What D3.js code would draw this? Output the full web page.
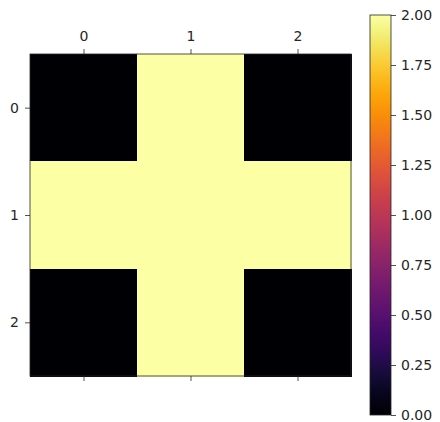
<!DOCTYPE html>
<html>
<head>
<meta charset="utf-8">
<script src="https://cdn.jsdelivr.net/npm/d3@7"></script>
<style>
  html, body { margin: 0; padding: 0; background: #fff; }
  svg text { font-family: "DejaVu Sans", sans-serif; font-size: 14px; fill: #262626; }
</style>
</head>
<body>
<svg id="chart" width="440" height="422"></svg>
<script>
// Matrix values (rows x columns)
const rows = [0, 1, 2];
const cols = [0, 1, 2];
const row0 = [0, 2, 0];
const row1 = [2, 2, 2];
const row2 = [0, 2, 0];
const matrix = [row0, row1, row2];
const colorTicks = [0, 0.25, 0.5, 0.75, 1.0, 1.25, 1.5, 1.75, 2.0];
const vmin = 0, vmax = 2;

const svg = d3.select("#chart");
const plot = { left: 30, top: 54, width: 321, height: 322 };
const cbar = { left: 370, top: 15, width: 21, height: 400 };

const x = d3.scaleBand().domain(cols).range([plot.left, plot.left + plot.width]).padding(0);
const y = d3.scaleBand().domain(rows).range([plot.top, plot.top + plot.height]).padding(0);
const color = d3.scaleSequential(d3.interpolateInferno).domain([vmin, vmax]);

// Heatmap cells
const cells = [];
matrix.forEach((r, i) => r.forEach((v, j) => cells.push({ row: rows[i], col: cols[j], v })));
svg.append("g").selectAll("rect").data(cells).join("rect")
  .attr("x", d => x(d.col))
  .attr("y", d => y(d.row))
  .attr("width", x.bandwidth() + 0.5)
  .attr("height", y.bandwidth() + 0.5)
  .attr("fill", d => color(d.v))
  .attr("shape-rendering", "crispEdges");

// Frame
svg.append("rect")
  .attr("x", plot.left).attr("y", plot.top)
  .attr("width", plot.width).attr("height", plot.height)
  .attr("fill", "none").attr("stroke", "#262626").attr("stroke-width", 0.8);

const styleAxis = g => {
  g.select(".domain").remove();
  g.selectAll(".tick line").attr("stroke", "#262626").attr("stroke-width", 0.8);
  g.selectAll(".tick text").attr("fill", "#262626").attr("font-size", 14).attr("font-family", "DejaVu Sans, sans-serif");
};

const xc = d3.scalePoint().domain(cols).range([x(cols[0]) + x.bandwidth() / 2, x(cols[cols.length - 1]) + x.bandwidth() / 2]);
const yc = d3.scalePoint().domain(rows).range([y(rows[0]) + y.bandwidth() / 2, y(rows[rows.length - 1]) + y.bandwidth() / 2]);

// Top axis with labels
svg.append("g").attr("transform", `translate(0,${plot.top})`)
  .call(d3.axisTop(xc).tickSize(5).tickPadding(8)).call(styleAxis);
// Bottom axis ticks without labels
svg.append("g").attr("transform", `translate(0,${plot.top + plot.height})`)
  .call(d3.axisBottom(xc).tickSize(5).tickFormat("")).call(styleAxis);
// Left axis
svg.append("g").attr("transform", `translate(${plot.left},0)`)
  .call(d3.axisLeft(yc).tickSize(5).tickPadding(6)).call(styleAxis);

// Colorbar
const defs = svg.append("defs");
const grad = defs.append("linearGradient").attr("id", "cbgrad")
  .attr("x1", "0").attr("y1", "1").attr("x2", "0").attr("y2", "0");
d3.range(0, 1.0001, 0.05).forEach(t => {
  grad.append("stop").attr("offset", t).attr("stop-color", d3.interpolateInferno(t));
});
svg.append("rect")
  .attr("x", cbar.left).attr("y", cbar.top)
  .attr("width", cbar.width).attr("height", cbar.height)
  .attr("fill", "url(#cbgrad)")
  .attr("stroke", "#262626").attr("stroke-width", 0.8);

const cy = d3.scaleLinear().domain([vmin, vmax]).range([cbar.top + cbar.height, cbar.top]);
svg.append("g").attr("transform", `translate(${cbar.left + cbar.width},0)`)
  .call(d3.axisRight(cy).tickValues(colorTicks).tickFormat(d3.format(".2f")).tickSize(5).tickPadding(5))
  .call(styleAxis);
</script>
</body>
</html>
